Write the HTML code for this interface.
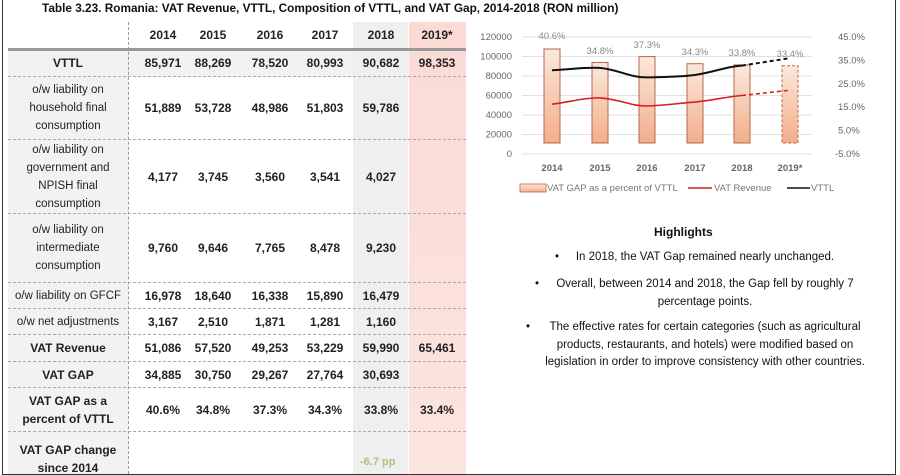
<!DOCTYPE html>
<html><head><meta charset="utf-8"><style>
*{margin:0;padding:0;box-sizing:border-box}
html,body{width:900px;height:475px;overflow:hidden}
body{background:#fff;font-family:"Liberation Sans",Arial,sans-serif;position:relative;color:#111}
.a{position:absolute}
.row{position:absolute;left:8px;width:458px;border-bottom:1px dashed #aaa}
.lab{position:absolute;left:0;width:120px;top:0;bottom:0;display:flex;align-items:center;justify-content:center;text-align:center;font-size:11.5px;line-height:18px;color:#222}
.b{font-weight:bold;font-size:12px}
.n{position:absolute;top:0;bottom:0;width:60px;display:flex;align-items:center;justify-content:center;font-weight:bold;font-size:12px;color:#222}
.hl{font-size:11.5px;color:#111;text-align:center;line-height:17.5px}
</style></head><body>
<div class="a" style="left:8px;top:48px;width:120px;height:426px;background:#f2f2f2"></div>
<div class="a" style="left:8px;top:48px;width:458px;height:29px;background:#f2f2f2"></div>
<div class="a" style="left:353px;top:22px;width:55px;height:452px;background:#efefef"></div>
<div class="a" style="left:409px;top:22px;width:57px;height:452px;background:linear-gradient(#fbdad4,#fce4df)"></div>
<div class="a" style="left:128px;top:22px;height:452px;border-left:1px dashed #999"></div>
<div class="a" style="left:8px;top:48px;width:458px;height:3px;background:#999"></div>
<div id="tbl"></div>
<script>
const cx=[163,213,270,325,381,437];
const rows=[
[22,48,'',['2014','2015','2016','2017','2018','2019*'],0,1],
[50,77,'VTTL',['85,971','88,269','78,520','80,993','90,682','98,353'],1],
[77,140,'o/w liability on<br>household final<br>consumption',['51,889','53,728','48,986','51,803','59,786','']],
[140,214,'o/w liability on<br>government and<br>NPISH final<br>consumption',['4,177','3,745','3,560','3,541','4,027','']],
[214,283,'o/w liability on<br>intermediate<br>consumption',['9,760','9,646','7,765','8,478','9,230','']],
[283,309,'o/w liability on GFCF',['16,978','18,640','16,338','15,890','16,479','']],
[309,335,'o/w net adjustments',['3,167','2,510','1,871','1,281','1,160','']],
[335,362,'VAT Revenue',['51,086','57,520','49,253','53,229','59,990','65,461'],1],
[362,388,'VAT GAP',['34,885','30,750','29,267','27,764','30,693',''],1],
[388,432,'VAT GAP as a<br>percent of VTTL',['40.6%','34.8%','37.3%','34.3%','33.8%','33.4%'],1]];
let h='';
for(const r of rows){
 const bd=r[5]?'border-bottom:none':'';
 h+=`<div class="row" style="top:${r[0]}px;height:${r[1]-r[0]}px;${bd}"><div class="lab ${r[4]?'b':''}">${r[2]}</div>`;
 r[3].forEach((v,i)=>{h+=`<div class="n" style="left:${cx[i]-38}px">${v}</div>`});
 h+='</div>';
}
h+=`<div class="a b" style="left:8px;top:441px;width:120px;text-align:center;line-height:18px;color:#222">VAT GAP change<br>since 2014</div>`;
h+=`<div class="a" style="left:360px;top:456px;font-size:11px;font-weight:bold;color:#a9c47f">-6.7 pp</div>`;
document.getElementById('tbl').innerHTML=h;
</script>
<div class="a" style="left:2px;top:0;width:894px;height:475px;border-left:1.5px solid #333;border-right:1.5px solid #333;border-bottom:1.5px solid #333"></div>
<div class="a" style="left:42px;top:1px;font-weight:bold;font-size:11.8px;white-space:nowrap">Table 3.23. Romania: VAT Revenue, VTTL, Composition of VTTL, and VAT Gap, 2014-2018 (RON million)</div>
<svg class="a" style="left:0;top:0" width="900" height="475" font-family="Liberation Sans,Arial,sans-serif">
<defs><linearGradient id="g" x1="0" y1="0" x2="0" y2="1"><stop offset="0" stop-color="#fbe8dc"/><stop offset="1" stop-color="#f2ae8a"/></linearGradient></defs>
<g stroke="#e0e0e0" stroke-width="1">
<line x1="522" x2="812" y1="37" y2="37"/><line x1="522" x2="812" y1="56.5" y2="56.5"/><line x1="522" x2="812" y1="76" y2="76"/><line x1="522" x2="812" y1="95.5" y2="95.5"/><line x1="522" x2="812" y1="115" y2="115"/><line x1="522" x2="812" y1="134.5" y2="134.5"/><line x1="522" x2="812" y1="154" y2="154"/>
</g>
<g font-size="9.5" fill="#666" text-anchor="end">
<text x="512" y="40">120000</text><text x="512" y="59.5">100000</text><text x="512" y="79">80000</text><text x="512" y="98.5">60000</text><text x="512" y="118">40000</text><text x="512" y="137.5">20000</text><text x="512" y="157">0</text>
</g>
<g font-size="9.5" fill="#666">
<text x="838" y="40">45.0%</text><text x="838" y="63.5">35.0%</text><text x="838" y="87">25.0%</text><text x="838" y="110">15.0%</text><text x="838" y="133.5">5.0%</text><text x="835" y="157">-5.0%</text>
</g>
<g stroke="#b8684a" stroke-width="1" fill="url(#g)">
<rect x="544" y="49" width="16" height="94"/>
<rect x="592" y="62.5" width="16" height="80.5"/>
<rect x="639" y="56.6" width="16" height="86.4"/>
<rect x="687" y="63.7" width="16" height="79.3"/>
<rect x="734" y="64.9" width="16" height="78.1"/>
<rect x="782" y="65.8" width="16" height="77.2" stroke-dasharray="3,2"/>
</g>
<g font-size="9.5" fill="#888" text-anchor="middle">
<text x="552" y="39">40.6%</text><text x="600" y="54">34.8%</text><text x="647" y="48">37.3%</text><text x="695" y="55">34.3%</text><text x="742" y="56">33.8%</text><text x="790" y="57">33.4%</text>
</g>
<path fill="none" stroke="#111" stroke-width="2" d="M552,70.2 C576,69 585,67 600,67.9 C620,70 630,77.6 647,77.4 C665,77 680,77 695,75 C715,72 728,66 742,65.6"/>
<polyline fill="none" stroke="#111" stroke-width="2" stroke-dasharray="4,3" points="742,65.6 790,58.1"/>
<path fill="none" stroke="#d42020" stroke-width="1.6" d="M552,104.2 C570,102 585,97.5 600,97.9 C620,99 630,106.2 647,106 C665,105.5 680,103 695,102.1 C715,100 728,96.5 742,95.5"/>
<polyline fill="none" stroke="#d42020" stroke-width="1.6" stroke-dasharray="4,3" points="742,95.5 790,90.2"/>
<g font-size="9.5" fill="#666" text-anchor="middle" font-weight="bold">
<text x="552" y="171">2014</text><text x="600" y="171">2015</text><text x="647" y="171">2016</text><text x="695" y="171">2017</text><text x="742" y="171">2018</text><text x="790" y="171">2019*</text>
</g>
<rect x="520" y="184" width="26" height="8" fill="url(#g)" stroke="#b8684a" stroke-width="0.8"/>
<text x="547" y="191" font-size="9.5" fill="#777">VAT GAP as a percent of VTTL</text>
<line x1="688" x2="712" y1="188" y2="188" stroke="#d42020" stroke-width="1.6"/>
<text x="714" y="191" font-size="9.5" fill="#777">VAT Revenue</text>
<line x1="787" x2="810" y1="188" y2="188" stroke="#111" stroke-width="1.6"/>
<text x="811" y="191" font-size="9.5" fill="#777">VTTL</text>
</svg>
<div class="a" style="left:654px;top:225px;font-weight:bold;font-size:12px">Highlights</div>
<div class="a hl" style="left:555px;top:249px">•</div>
<div class="a hl" style="left:570px;top:249px;width:270px;white-space:nowrap">In 2018, the VAT Gap remained nearly unchanged.</div>
<div class="a hl" style="left:535px;top:276px">•</div>
<div class="a hl" style="left:540px;top:276px;width:330px">Overall, between 2014 and 2018, the Gap fell by roughly 7 percentage points.</div>
<div class="a hl" style="left:526px;top:319px">•</div>
<div class="a hl" style="left:538px;top:319px;width:334px">The effective rates for certain categories (such as agricultural products, restaurants, and hotels) were modified based on legislation in order to improve consistency with other countries.</div>
</body></html>
